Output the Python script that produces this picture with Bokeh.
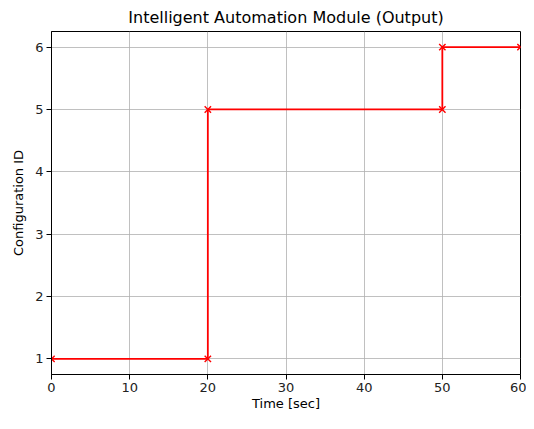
from bokeh.plotting import figure
from bokeh.embed import file_html
from bokeh.resources import INLINE
from bokeh.models import Range1d, FixedTicker

time_sec = [0, 20, 20, 50, 50, 60]
config_id = [1, 1, 5, 5, 6, 6]
x_ticks = [0, 10, 20, 30, 40, 50, 60]
y_ticks = [1, 2, 3, 4, 5, 6]

FONT = "DejaVu Sans"

p = figure(width=526, height=413, output_backend="svg", toolbar_location=None,
           x_range=Range1d(0, 60), y_range=Range1d(0.75, 6.25),
           min_border_left=51, min_border_right=6, min_border_top=24, min_border_bottom=35)

p.title.text = "Intelligent Automation Module (Output)"
p.title.align = "center"
p.title.text_font = FONT
p.title.text_font_size = "16px"
p.title.text_font_style = "normal"
p.title.text_color = "#000000"

p.line(time_sec, config_id, line_color="#ff0000", line_width=1.8)
p.scatter(time_sec, config_id, marker="x", size=9, line_color="#ff0000", line_width=1.4)

for ax in (p.xaxis, p.yaxis):
    ax.axis_line_color = "#000000"
    ax.major_tick_line_color = "#000000"
    ax.major_tick_out = 5
    ax.major_tick_in = 0
    ax.minor_tick_line_color = None
    ax.major_label_text_font = FONT
    ax.major_label_text_font_size = "13px"
    ax.major_label_text_color = "#222222"
    ax.axis_label_text_font = FONT
    ax.axis_label_text_font_size = "13px"
    ax.axis_label_text_font_style = "normal"
    ax.axis_label_text_color = "#000000"

p.xaxis.ticker = FixedTicker(ticks=x_ticks)
p.yaxis.ticker = FixedTicker(ticks=y_ticks)
p.xaxis.major_label_standoff = 3
p.yaxis.major_label_standoff = 3
p.xaxis.axis_label = "Time [sec]"
p.yaxis.axis_label = "Configuration ID"
p.xaxis.axis_label_standoff = 1
p.yaxis.axis_label_standoff = 6

p.grid.grid_line_color = "#b0b0b0"
p.grid.grid_line_width = 0.8
p.outline_line_color = "#000000"
p.outline_line_width = 1
p.outline_line_alpha = 1

open("out.html", "w").write(file_html(p, INLINE))
